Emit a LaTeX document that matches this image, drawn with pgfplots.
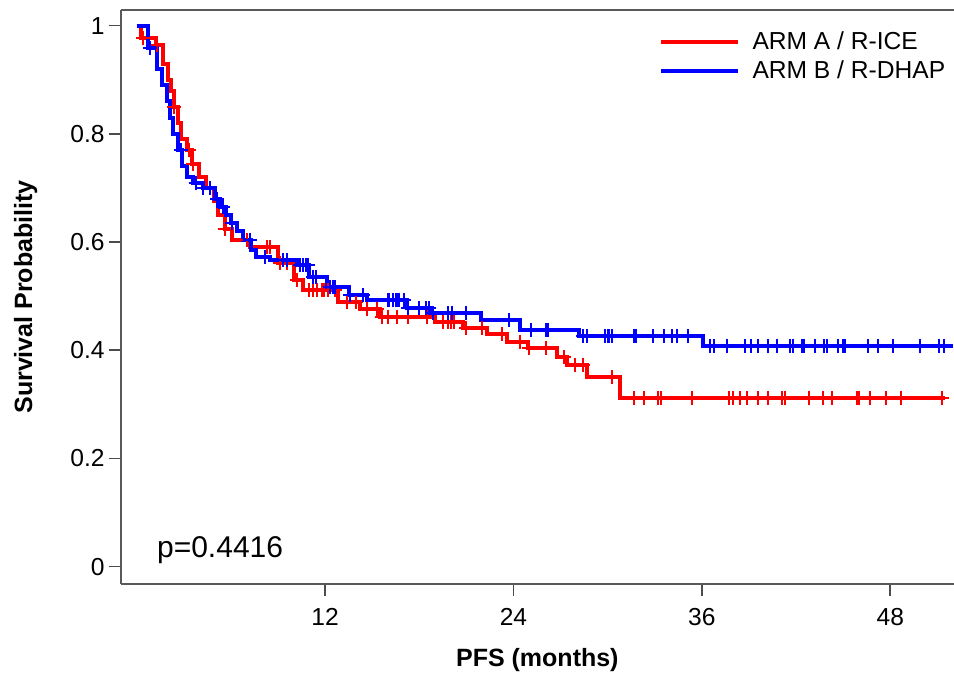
\documentclass[border=0pt]{standalone}
\usepackage{fontspec}
\setmainfont{Liberation Sans}
\usepackage{pgfplots}
\pgfplotsset{compat=1.18}

\begin{document}
\begin{tikzpicture}
\begin{axis}[
  name=km,
  scale only axis,
  width=416.7pt, height=287pt,
  xmin=-1.02, xmax=52.06,
  ymin=-0.032, ymax=1.029,
  axis x line*=box, axis y line*=left,
  axis line style={black!65, line width=1pt},
  every tick/.style={black!70, line width=0.8pt},
  tick align=outside,
  major tick length=6pt,
  xtick pos=bottom, ytick pos=left,
  xtick={12,24,36,48},
  xticklabels={12,24,36,48},
  ytick={0,0.2,0.4,0.6,0.8,1},
  yticklabels={0,0.2,0.4,0.6,0.8,1},
  tick label style={font=\fontsize{12.3}{14}\selectfont},
  xticklabel style={yshift=-2.5pt},
  yticklabel style={xshift=1.5pt},
  xlabel={PFS (months)},
  ylabel={Survival Probability},
  label style={font=\fontsize{12.5}{15}\selectfont\bfseries},
  xlabel style={at={(axis description cs:0.5,-0.132)}, anchor=center},
  ylabel style={at={(axis description cs:-0.114,0.5)}, anchor=center},
  legend style={draw=none, fill=none, at={(axis description cs:1,1)},
    anchor=north east, xshift=0pt, yshift=-7.5pt,
    font=\fontsize{12.3}{14}\selectfont, row sep=1.8pt,
    nodes={inner sep=1.2pt},
    /tikz/every odd column/.append style={column sep=5pt}},
  legend cell align=left,
  legend image code/.code={\draw[#1, line width=2pt] (0pt,0pt) -- (38.5pt,0pt);},
]
% curves
\addplot[const plot, red, line width=2pt] coordinates {
(0,1.000)(0.3,0.977)(1.2,0.964)(1.7,0.930)(2.0,0.900)(2.2,0.880)(2.4,0.850)
(2.6,0.820)(2.8,0.790)(3.2,0.770)(3.5,0.745)(4.0,0.720)(4.4,0.700)(4.9,0.675)
(5.2,0.650)(5.6,0.625)(6.1,0.604)(7.2,0.591)(9.0,0.561)(10.0,0.530)(10.6,0.511)
(12.8,0.490)(14.2,0.476)(15.5,0.462)(19.0,0.453)(20.8,0.442)(22.3,0.430)
(23.6,0.415)(24.9,0.404)(26.8,0.387)(27.4,0.373)(28.7,0.350)(30.8,0.312)(51.5,0.312)
};
\addlegendentry{ARM A / R-ICE}
\addplot[const plot, blue, line width=2pt] coordinates {
(0,1.000)(0.7,0.958)(1.3,0.920)(1.6,0.890)(1.9,0.860)(2.1,0.830)(2.3,0.800)
(2.6,0.770)(2.9,0.740)(3.2,0.720)(3.6,0.710)(4.2,0.700)(5.0,0.680)(5.3,0.665)
(5.7,0.650)(6.0,0.635)(6.4,0.620)(6.8,0.604)(7.3,0.585)(7.6,0.572)(8.5,0.567)
(10.2,0.557)(11.0,0.536)(12.1,0.517)(13.5,0.503)(14.7,0.493)(17.2,0.478)
(18.8,0.469)(21.9,0.456)(24.4,0.437)(28.2,0.426)(36.1,0.408)(52.0,0.408)
};
\addlegendentry{ARM B / R-DHAP}
% censoring marks
\addplot[only marks, mark=+, mark size=3.5pt, red, line width=1pt, forget plot] coordinates {
(0.4,0.977)(1.3,0.964)(2.4,0.850)(3.3,0.770)(3.6,0.745)(4.7,0.700)(5.6,0.625)
(7.0,0.604)(8.3,0.591)(8.5,0.591)(9.1,0.561)(9.6,0.561)(10.2,0.530)(11.0,0.511)
(11.2,0.511)(11.5,0.511)(11.8,0.511)(11.9,0.511)(12.2,0.511)(12.6,0.511)
(13.4,0.490)(14.0,0.490)(14.7,0.476)(15.3,0.476)(15.6,0.462)(16.0,0.462)
(16.6,0.462)(17.3,0.462)(18.5,0.462)(19.5,0.453)(19.8,0.453)(20.0,0.453)
(20.2,0.453)(21.0,0.442)(22.0,0.442)(23.3,0.430)(24.4,0.415)(25.0,0.404)
(26.1,0.404)(27.2,0.387)(27.9,0.373)(28.4,0.373)(30.3,0.350)(31.7,0.312)
(32.3,0.312)(33.2,0.312)(33.4,0.312)(35.4,0.312)(37.7,0.312)(38.0,0.312)
(38.4,0.312)(38.9,0.312)(39.6,0.312)(40.2,0.312)(41.1,0.312)(41.3,0.312)
(42.8,0.312)(43.7,0.312)(44.3,0.312)(45.9,0.312)(46.0,0.312)(46.7,0.312)
(47.7,0.312)(48.7,0.312)(51.3,0.312)
};
\addplot[only marks, mark=+, mark size=3.5pt, blue, line width=1pt, forget plot] coordinates {
(0.85,0.958)(2.8,0.770)(3.8,0.710)(4.2,0.700)(4.7,0.700)(5.1,0.680)(5.5,0.665)
(6.1,0.635)(7.2,0.604)(8.2,0.572)(9.3,0.567)(9.6,0.567)(10.4,0.557)(10.6,0.557)
(10.8,0.557)(10.9,0.557)(11.2,0.536)(11.4,0.536)(12.3,0.517)(12.5,0.517)
(12.6,0.517)(13.6,0.503)(14.4,0.503)(16.0,0.493)(16.1,0.493)(16.3,0.493)
(16.5,0.493)(16.6,0.493)(16.7,0.493)(17.0,0.493)(17.3,0.478)(18.0,0.478)
(18.4,0.478)(18.6,0.478)(18.9,0.469)(19.8,0.469)(20.1,0.469)(21.0,0.469)
(23.7,0.456)(25.1,0.437)(26.1,0.437)(26.2,0.437)(28.4,0.426)(28.7,0.426)
(29.8,0.426)(30.0,0.426)(30.1,0.426)(30.3,0.426)(31.7,0.426)(31.8,0.426)
(32.9,0.426)(33.6,0.426)(34.1,0.426)(34.4,0.426)(35.1,0.426)(36.5,0.408)
(36.8,0.408)(37.6,0.408)(38.75,0.408)(39.1,0.408)(39.6,0.408)(40.2,0.408)
(40.8,0.408)(41.6,0.408)(41.8,0.408)(42.4,0.408)(42.5,0.408)(43.2,0.408)
(43.8,0.408)(44.0,0.408)(44.7,0.408)(45.0,0.408)(45.1,0.408)(46.6,0.408)
(47.2,0.408)(48.2,0.408)(49.9,0.408)(51.1,0.408)(51.4,0.408)
};
\node[anchor=west, font=\fontsize{15}{18}\selectfont] at (axis cs:0.85,0.03) {p=0.4416};
\end{axis}
\pgfresetboundingbox
\path[use as bounding box] ([xshift=-60.35pt,yshift=-47.5pt]km.south west) rectangle ([yshift=5pt]km.north east);
\end{tikzpicture}
\end{document}
